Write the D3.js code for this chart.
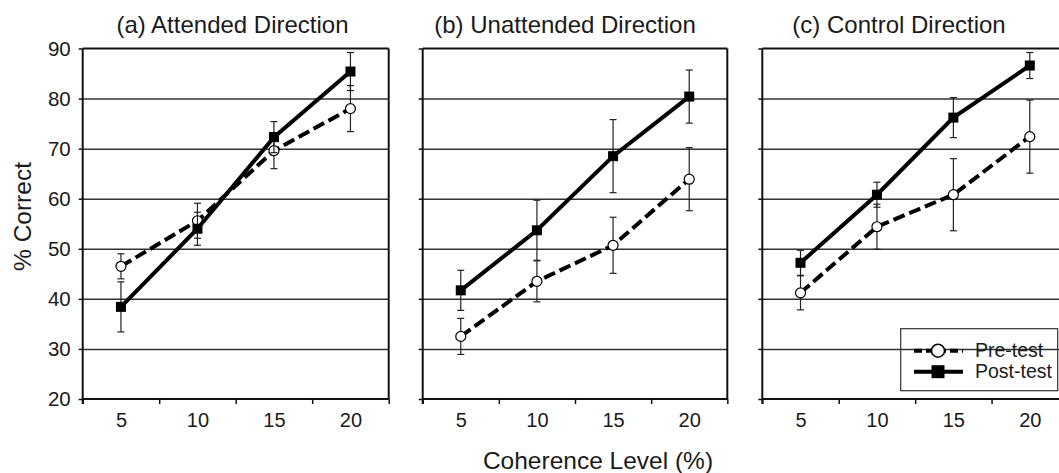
<!DOCTYPE html>
<html><head><meta charset="utf-8">
<script src="https://cdn.jsdelivr.net/npm/d3@7"></script>
<style>
body{margin:0;background:#fff;overflow:hidden}
svg{display:block;font-family:"Liberation Sans",Arial,Helvetica,sans-serif}
</style>
</head><body>
<svg id="chart" width="1059" height="473"></svg>
<script>
// ---- data ----
const coherence = [5, 10, 15, 20];
const yTickValues = [20, 30, 40, 50, 60, 70, 80, 90];
const gridValues = [30, 40, 50, 60, 70, 80];
const panelTitles = ["(a) Attended Direction", "(b) Unattended Direction", "(c) Control Direction"];
const seriesNames = ["Pre-test", "Post-test"];

const preAttended     = [46.5, 55.6, 69.6, 78.0];
const preAttendedErr  = [2.5, 3.5, 3.6, 4.6];
const postAttended    = [38.4, 54.0, 72.3, 85.4];
const postAttendedErr = [5.0, 3.3, 3.1, 3.8];

const preUnattended     = [32.5, 43.5, 50.7, 63.9];
const preUnattendedErr  = [3.6, 4.1, 5.6, 6.3];
const postUnattended    = [41.7, 53.7, 68.5, 80.4];
const postUnattendedErr = [4.0, 6.0, 7.3, 5.3];

const preControl     = [41.2, 54.4, 60.8, 72.4];
const preControlErr  = [3.4, 4.5, 7.2, 7.3];
const postControl    = [47.2, 60.8, 76.2, 86.6];
const postControlErr = [2.5, 2.5, 4.0, 2.6];

const xLabel = "Coherence Level (%)";
const yLabel = "% Correct";

// ---- layout ----
const panels = [
  {x0: 82.7,  x1: 388.7, title: panelTitles[0], tx: 232.5, pre: preAttended, preErr: preAttendedErr, post: postAttended, postErr: postAttendedErr},
  {x0: 422.7, x1: 727.3, title: panelTitles[1], tx: 565,   pre: preUnattended, preErr: preUnattendedErr, post: postUnattended, postErr: postUnattendedErr},
  {x0: 762.3, x1: 1068,  title: panelTitles[2], tx: 899,   pre: preControl, preErr: preControlErr, post: postControl, postErr: postControlErr}
];
const yTop = 48.5, yBot = 399;
const ink = "#111";

const svg = d3.select("#chart");
const y = d3.scaleLinear().domain([20, 90]).range([yBot, yTop]);

panels.forEach((p, i) => {
  const g = svg.append("g");
  const x = d3.scaleLinear().domain([2.5, 22.5]).range([p.x0, p.x1]);
  const w = p.x1 - p.x0;

  // gridlines
  const grid = g.append("g").attr("transform", `translate(${p.x0},0)`)
    .call(d3.axisLeft(y).tickValues(gridValues).tickSize(-w).tickFormat(""));
  grid.select(".domain").remove();
  grid.selectAll("line").attr("stroke", "#333").attr("stroke-width", 1.5);

  // frame: top and right
  g.append("line").attr("x1", p.x0).attr("x2", p.x1).attr("y1", y(90)).attr("y2", y(90))
    .attr("stroke", ink).attr("stroke-width", 2);
  g.append("line").attr("x1", p.x1).attr("x2", p.x1).attr("y1", y(90)).attr("y2", y(20))
    .attr("stroke", ink).attr("stroke-width", 2);

  // y axis
  const ya = g.append("g").attr("transform", `translate(${p.x0},0)`)
    .call(d3.axisLeft(y).tickValues(yTickValues).tickSize(4).tickPadding(8)
      .tickFormat(i === 0 ? d3.format("d") : ""));
  ya.select(".domain").attr("stroke", ink).attr("stroke-width", 2).attr("d", `M0,${y(90)}V${y(20)+5}`);
  ya.selectAll(".tick line").attr("stroke", ink).attr("stroke-width", 1.5);
  ya.selectAll("text").attr("font-size", 20.5).attr("fill", "#1a1a1a").attr("font-family", "Liberation Sans, Arial, sans-serif");

  // x axis tick marks at band boundaries
  const xa = g.append("g").attr("transform", `translate(0,${yBot})`)
    .call(d3.axisBottom(x).tickValues([2.5, 7.5, 12.5, 17.5, 22.5]).tickSize(5).tickFormat(""));
  xa.select(".domain").attr("stroke", ink).attr("stroke-width", 2).attr("d", `M${p.x0},0H${p.x1}`);
  xa.selectAll(".tick line").attr("stroke", ink).attr("stroke-width", 1.5);

  // x labels
  const xl = g.append("g").attr("transform", `translate(0,${yBot})`)
    .call(d3.axisBottom(x).tickValues(coherence).tickSize(0).tickPadding(14));
  xl.select(".domain").remove();
  xl.selectAll("text").attr("font-size", 20).attr("fill", "#1a1a1a").attr("font-family", "Liberation Sans, Arial, sans-serif");

  // title
  g.append("text").attr("x", p.tx).attr("y", 32.7).attr("text-anchor", "middle")
    .attr("font-size", 24).attr("fill", "#1a1a1a").text(p.title);

  // series
  const series = [
    {vals: p.pre, err: p.preErr, dash: "12,5", marker: "circle"},
    {vals: p.post, err: p.postErr, dash: null, marker: "square"}
  ];
  series.forEach(s => {
    const pts = coherence.map((c, k) => ({c, v: s.vals[k], e: s.err[k]}));
    // error bars
    const eb = g.append("g");
    pts.forEach(d => {
      const cx = x(d.c);
      eb.append("line").attr("x1", cx).attr("x2", cx).attr("y1", y(d.v + d.e)).attr("y2", y(d.v - d.e))
        .attr("stroke", "#222").attr("stroke-width", 1.2);
      [d.v + d.e, d.v - d.e].forEach(vv => {
        eb.append("line").attr("x1", cx - 3.5).attr("x2", cx + 3.5).attr("y1", y(vv)).attr("y2", y(vv))
          .attr("stroke", "#222").attr("stroke-width", 1.2);
      });
    });
    // line
    g.append("path").datum(pts)
      .attr("d", d3.line().x(d => x(d.c)).y(d => y(d.v)))
      .attr("fill", "none").attr("stroke", "#000").attr("stroke-width", 4)
      .attr("stroke-dasharray", s.dash);
    // markers
    if (s.marker === "circle") {
      g.selectAll(null).data(pts).enter().append("circle")
        .attr("cx", d => x(d.c)).attr("cy", d => y(d.v)).attr("r", 5)
        .attr("fill", "#fff").attr("stroke", "#000").attr("stroke-width", 1.2);
    } else {
      g.selectAll(null).data(pts).enter().append("rect")
        .attr("x", d => x(d.c) - 5).attr("y", d => y(d.v) - 5).attr("width", 10).attr("height", 10)
        .attr("fill", "#000");
    }
  });
});

// axis titles
svg.append("text").attr("transform", `translate(31,216.5) rotate(-90)`).attr("text-anchor", "middle")
  .attr("font-size", 24.5).attr("fill", "#1a1a1a").text(yLabel);
svg.append("text").attr("x", 598).attr("y", 468.5).attr("text-anchor", "middle")
  .attr("font-size", 24.5).attr("fill", "#1a1a1a").text(xLabel);

// legend
const lg = svg.append("g");
lg.append("rect").attr("x", 900.7).attr("y", 328.7).attr("width", 157).attr("height", 62)
  .attr("fill", "none").attr("stroke", "#333").attr("stroke-width", 1.2);
const legendRows = [
  {name: seriesNames[0], dash: "8,4", marker: "circle", y: 350.7},
  {name: seriesNames[1], dash: null, marker: "square", y: 371.7}
];
legendRows.forEach(r => {
  lg.append("line").attr("x1", 914).attr("x2", 963).attr("y1", r.y).attr("y2", r.y)
    .attr("stroke", "#000").attr("stroke-width", 4).attr("stroke-dasharray", r.dash);
  if (r.marker === "circle") {
    lg.append("circle").attr("cx", 938).attr("cy", r.y).attr("r", 6.5)
      .attr("fill", "#fff").attr("stroke", "#000").attr("stroke-width", 1.5);
  } else {
    lg.append("rect").attr("x", 931.5).attr("y", r.y - 6.5).attr("width", 13).attr("height", 13).attr("fill", "#000");
  }
  lg.append("text").attr("x", 975).attr("y", r.y + 6.6).attr("font-size", 19.5).attr("fill", "#1a1a1a").text(r.name);
});
</script>
</body></html>
